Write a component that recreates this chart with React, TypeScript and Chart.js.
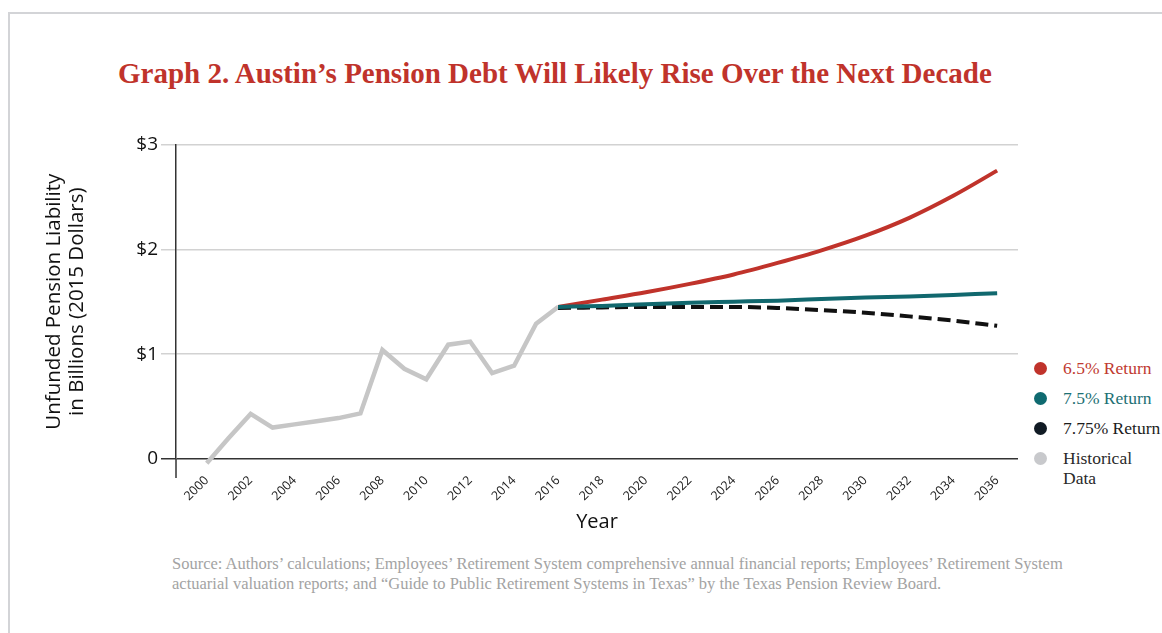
import React, { useEffect, useRef } from "react";
import { Chart, registerables } from "chart.js";

Chart.register(...registerables);

const histYears = [2000, 2001, 2002, 2003, 2004, 2005, 2006, 2007, 2008, 2009, 2010, 2011, 2012, 2013, 2014, 2015, 2016];
const histValues = [-0.04, 0.2, 0.43, 0.3, 0.33, 0.36, 0.39, 0.435, 1.04, 0.86, 0.76, 1.09, 1.12, 0.82, 0.89, 1.29, 1.45];

const projYears = [2016, 2018, 2020, 2022, 2024, 2026, 2028, 2030, 2032, 2034, 2036];
const return65 = [1.45, 1.52, 1.59, 1.67, 1.76, 1.87, 1.99, 2.13, 2.3, 2.51, 2.75];
const return75 = [1.45, 1.46, 1.475, 1.49, 1.5, 1.51, 1.525, 1.54, 1.55, 1.565, 1.58];
const return775 = [1.44, 1.445, 1.45, 1.45, 1.45, 1.44, 1.42, 1.395, 1.36, 1.32, 1.27];

const xTickYears = [2000, 2002, 2004, 2006, 2008, 2010, 2012, 2014, 2016, 2018, 2020, 2022, 2024, 2026, 2028, 2030, 2032, 2034, 2036];
const yTickValues = [0, 1, 2, 3];
const yTickLabels = ["0", "$1", "$2", "$3"];

const TITLE = "Graph 2. Austin\u2019s Pension Debt Will Likely Rise Over the Next Decade";
const Y_TITLE = ["Unfunded Pension Liability", "in Billions (2015 Dollars)"];
const X_TITLE = "Year";

const legendItems = [
  { label: "6.5% Return", dot: "#c0332b", text: "#bf3a31" },
  { label: "7.5% Return", dot: "#0f6a70", text: "#1d7074" },
  { label: "7.75% Return", dot: "#111b24", text: "#1c1c1c" },
  { label: "Historical\nData", dot: "#c8c9cc", text: "#2a2a2a" },
];

const SOURCE_LINES = [
  "Source: Authors\u2019 calculations; Employees\u2019 Retirement System comprehensive annual financial reports; Employees\u2019 Retirement System",
  "actuarial valuation reports; and \u201cGuide to Public Retirement Systems in Texas\u201d by the Texas Pension Review Board.",
];

const COLORS = { red: "#c0332b", teal: "#11686e", black: "#111111", gray: "#c6c6c6" };

const SANS = "'Open Sans', 'Noto Sans', sans-serif";
const SERIF = "'Liberation Serif', 'DejaVu Serif', serif";

const toPts = (xs: number[], ys: number[]) => xs.map((x, i) => ({ x, y: ys[i] }));

const axisExtension = {
  id: "axisExtension",
  afterDraw(chart: any) {
    const { ctx, chartArea } = chart;
    ctx.save();
    ctx.strokeStyle = "#333";
    ctx.lineWidth = 1.5;
    ctx.beginPath();
    ctx.moveTo(chartArea.left, chartArea.bottom);
    ctx.lineTo(chartArea.left, chartArea.bottom + 19);
    ctx.stroke();
    ctx.restore();
  },
};

export default function App() {
  const canvasRef = useRef<HTMLCanvasElement | null>(null);

  useEffect(() => {
    if (!canvasRef.current) return;
    const chart = new Chart(canvasRef.current, {
      type: "line",
      data: {
        datasets: [
          {
            label: "7.5% Return",
            data: toPts(projYears, return75),
            borderColor: COLORS.teal,
            borderWidth: 4,
            pointRadius: 0,
            cubicInterpolationMode: "monotone",
            order: 0,
          },
          {
            label: "7.75% Return",
            data: toPts(projYears, return775),
            borderColor: COLORS.black,
            borderWidth: 4,
            borderDash: [13, 6],
            pointRadius: 0,
            cubicInterpolationMode: "monotone",
            order: 1,
          },
          {
            label: "6.5% Return",
            data: toPts(projYears, return65),
            borderColor: COLORS.red,
            borderWidth: 4,
            pointRadius: 0,
            cubicInterpolationMode: "monotone",
            order: 2,
          },
          {
            label: "Historical Data",
            data: toPts(histYears, histValues),
            borderColor: COLORS.gray,
            borderWidth: 4.5,
            pointRadius: 0,
            tension: 0,
            clip: false,
            order: 3,
          },
        ],
      } as any,
      options: {
        responsive: false,
        animation: false,
        layout: { padding: { left: 0, top: 14, right: 12, bottom: 0 } },
        plugins: { legend: { display: false }, tooltip: { enabled: false } },
        scales: {
          x: {
            type: "linear",
            min: 1998.6,
            max: 2036.95,
            afterBuildTicks: (scale: any) => {
              scale.ticks = xTickYears.map((v) => ({ value: v }));
            },
            afterFit: (scale: any) => {
              scale.height = 79;
            },
            grid: { display: false },
            border: { display: false },
            ticks: {
              autoSkip: false,
              maxRotation: 45,
              minRotation: 45,
              padding: 6,
              color: "#1a1a1a",
              font: { family: SANS, size: 12.5 },
              callback: (v: any) => String(v),
            },
            title: {
              display: true,
              text: X_TITLE,
              color: "#111",
              font: { family: SANS, size: 20 },
              padding: { top: 0, bottom: 4 },
            },
          },
          y: {
            type: "linear",
            min: 0,
            max: 3,
            afterBuildTicks: (scale: any) => {
              scale.ticks = yTickValues.map((v) => ({ value: v }));
            },
            afterFit: (scale: any) => {
              scale.width = 176;
            },
            grid: {
              color: (ctx: any) => (ctx.tick && ctx.tick.value === 0 ? "#333" : "#d2d2d2"),
              lineWidth: 1.5,
              tickLength: 15,
              drawTicks: true,
            },
            border: { display: true, color: "#333", width: 1.5 },
            ticks: {
              padding: 3,
              color: "#111",
              font: { family: SANS, size: 19 },
              callback: (v: any) => {
                const i = yTickValues.indexOf(Number(v));
                return i >= 0 ? yTickLabels[i] : "";
              },
            },
            title: {
              display: true,
              text: Y_TITLE,
              color: "#111",
              font: { family: SANS, size: 20.5, lineHeight: 1.12 },
              padding: { top: 42.5, bottom: 0 },
            },
          },
        },
      } as any,
      plugins: [axisExtension],
    });
    return () => chart.destroy();
  }, []);

  return (
    <div style={{ position: "absolute", left: 0, top: 0, width: 1162, height: 633, overflow: "hidden", background: "#fff" }}>
      <div
        style={{
          position: "absolute",
          left: 8,
          top: 12,
          width: 1300,
          height: 800,
          borderTop: "2px solid #d3d4d7",
          borderLeft: "2px solid #d3d4d7",
        }}
      />
      <div
        style={{
          position: "absolute",
          left: 118,
          top: 56,
          whiteSpace: "nowrap",
          fontFamily: SERIF,
          fontWeight: "bold",
          fontSize: 29,
          lineHeight: "34px",
          color: "#c0332b",
        }}
      >
        {TITLE}
      </div>
      <canvas
        ref={canvasRef}
        width={1030}
        height={408}
        style={{ position: "absolute", left: 0, top: 130, width: 1030, height: 408 }}
      />
      {legendItems.map((it, i) => (
        <div key={it.label}>
          <div
            style={{
              position: "absolute",
              left: 1034,
              top: 362 + i * 30,
              width: 13,
              height: 13,
              borderRadius: "50%",
              background: it.dot,
            }}
          />
          <div
            style={{
              position: "absolute",
              left: 1063,
              top: 358 + i * 30,
              fontFamily: SERIF,
              fontSize: 17.5,
              lineHeight: "20px",
              color: it.text,
              whiteSpace: "pre",
            }}
          >
            {it.label}
          </div>
        </div>
      ))}
      <div
        style={{
          position: "absolute",
          left: 172,
          top: 554,
          fontFamily: SERIF,
          fontSize: 16.5,
          lineHeight: "20px",
          color: "#a3a3a3",
          whiteSpace: "nowrap",
        }}
      >
        {SOURCE_LINES.map((l) => (
          <div key={l}>{l}</div>
        ))}
      </div>
    </div>
  );
}
